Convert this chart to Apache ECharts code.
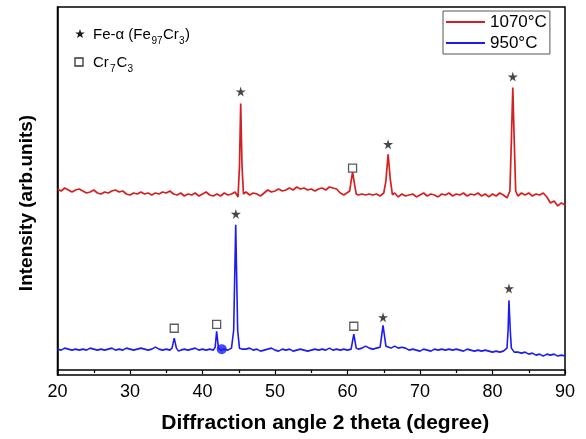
<!DOCTYPE html>
<html>
<head>
<meta charset="utf-8">
<script src="https://cdn.jsdelivr.net/npm/echarts@6/dist/echarts.min.js"></script>
<style>
html,body{margin:0;padding:0;background:#fff;}
#c{width:586px;height:439px;}
</style>
</head>
<body>
<div id="c"></div>
<script>
// 2-theta (degree), intensity (arb. units, offset)
var red1070 = [
[20,182],[20.5,180],[21,183],[21.5,181],[22,179],[22.5,181],[23,182],[23.5,180],[24,178],[24.5,179],
[25,181],[25.5,178],[26,177],[26.5,179],[27,178],[27.5,180],[28,181],[28.5,179],[29,180],[29.5,177],
[30,176],[30.5,178],[31,177],[31.5,179],[32,177],[32.5,178],[33,176],[33.5,178],[34,177],[34.5,179],
[35,178],[35.5,180],[36,177],[36.5,176],[37,178],[37.5,175],[38,177],[38.5,176],[39,178],[39.5,175],
[40,177],[40.5,179],[41,176],[41.5,175],[42,177],[42.5,175],[43,178],[43.5,176],[44,177],[44.5,179],
[44.9,174],[45.1,205],[45.27,268],[45.45,205],[45.65,177],[46,179],[46.5,176],[47,178],[47.5,177],[48,175],
[48.5,178],[49,181],[49.5,179],[50,180],[50.5,182],[51,180],[51.5,181],[52,183],[52.5,181],[53,184],
[53.5,182],[54,183],[54.5,181],[55,182],[55.5,180],[56,182],[56.5,183],[57,181],[57.5,184],[58,183],
[58.5,182],[59,178],[59.5,176],[60.3,180],[60.5,190],[60.7,199],[60.9,190],[61.2,177],[61.5,176],[62,177],
[62.5,176],[63,177],[63.5,176],[64,177],[64.5,175],[65,178],[65.3,190],[65.6,217],[65.9,192],[66.2,176],
[66.5,178],[67,174],[67.5,177],[68,175],[68.5,176],[69,177],[69.5,174],[70,176],[70.5,178],[71,175],
[71.5,177],[72,176],[72.5,174],[73,177],[73.5,176],[74,178],[74.5,175],[75,177],[75.5,176],[76,178],
[76.5,175],[77,177],[77.5,176],[78,178],[78.5,175],[79,177],[79.5,174],[80,177],[80.5,175],[81,178],
[81.5,176],[82,173],[82.4,180],[82.6,230],[82.8,284],[83.0,230],[83.2,180],[83.5,175],[84,178],[84.5,176],
[85,178],[85.5,175],[86,177],[86.5,176],[87,178],[87.5,174],[88,168],[88.5,170],[89,165],[89.5,168],[90,166]
];
var blue950 = [
[20,21],[20.5,20],[21,22],[21.5,21],[22,20],[22.5,21],[23,20],[23.5,21],[24,20],[24.5,22],
[25,21],[25.5,20],[26,21],[26.5,20],[27,21],[27.5,22],[28,20],[28.5,21],[29,20],[29.5,22],
[30,21],[30.5,20],[31,21],[31.5,22],[32,21],[32.5,20],[33,21],[33.5,23],[34,21],[34.5,20],
[35,21],[35.5,20],[35.8,22],[36.1,32],[36.4,22],[36.7,19],[37,20],[37.5,21],[38,20],[38.5,21],
[39,22],[39.5,20],[40,21],[40.5,20],[41,21],[41.5,20],[41.75,23],[41.95,39],[42.2,22],[42.5,20],
[43,21],[43.5,20],[44,22],[44.3,40],[44.58,146],[44.85,40],[45.1,22],[45.5,21],[46,21],[46.5,22],
[47,20],[47.5,21],[48,19],[48.5,20],[49,21],[49.5,22],[50,20],[50.5,19],[51,21],[51.5,20],
[52,21],[52.5,19],[53,20],[53.5,21],[54,20],[54.5,19],[55,20],[55.5,21],[56,20],[56.5,21],
[57,20],[57.5,22],[58,20],[58.5,21],[59,20],[59.5,21],[60,20],[60.5,21],[60.87,36],[61.2,22],
[61.5,21],[62,22],[62.5,24],[63,22],[63.5,21],[64,22],[64.5,23],[64.9,45],[65.3,24],[65.7,23],
[66,22],[66.5,24],[67,22],[67.5,23],[68,22],[68.5,20],[69,21],[69.5,20],[70,19],[70.5,21],
[71,20],[71.5,19],[72,21],[72.5,20],[73,21],[73.5,20],[74,21],[74.5,20],[75,21],[75.5,20],
[76,19],[76.5,21],[77,20],[77.5,19],[78,20],[78.5,19],[79,20],[79.5,19],[80,18],[80.5,19],
[81,18],[81.5,19],[82,22],[82.15,40],[82.27,70],[82.45,40],[82.6,22],[83,18],[83.5,18],[84,17],
[84.5,18],[85,16],[85.5,17],[86,15],[86.5,16],[87,14],[87.5,16],[88,15],[88.5,16],[89,14],[89.5,15],[90,14]
];
var blueDot = [[42.65,21]];
// phase markers
var feAlphaMarks = [[45.27,280],[65.6,227],[82.8,295],[44.6,157],[64.9,53],[82.27,82]];
var cr7c3Marks = [[60.7,203],[36.1,42],[41.95,46],[60.87,44]];
var xTicks = [20,30,40,50,60,70,80,90];

var FONT = 'Liberation Sans, Arial, sans-serif';
var STAR = 'path://M50,0 L61,35 L98,35 L68,57 L79,91 L50,70 L21,91 L32,57 L2,35 L39,35 Z';
var STAR_PTS = [[0,-5],[1.2,-1.6],[4.75,-1.55],[1.9,0.6],[2.95,4.05],[0,2],[-2.95,4.05],[-1.9,0.6],[-4.75,-1.55],[-1.2,-1.6]];

var chart = echarts.init(document.getElementById('c'), null, {renderer:'canvas'});
chart.setOption({
  backgroundColor:'#fff',
  animation:false,
  grid:{left:57.5,right:21,top:7,bottom:62,show:true,borderColor:'#000',borderWidth:1.5},
  legend:{
    data:['1070°C','950°C'],
    orient:'vertical',left:443,top:11,
    icon:'rect',itemWidth:39,itemHeight:2,itemGap:1,
    padding:[1,3,1,3],
    borderColor:'#555',borderWidth:1,backgroundColor:'#fff',
    textStyle:{fontFamily:FONT,fontSize:17,color:'#000',lineHeight:20}
  },
  xAxis:{
    type:'value',min:xTicks[0],max:xTicks[xTicks.length-1],interval:10,
    name:'Diffraction angle 2 theta (degree)',nameLocation:'middle',nameGap:38,
    nameTextStyle:{fontFamily:FONT,fontSize:21,fontWeight:'bold',color:'#000',padding:[0,0,0,28]},
    axisLine:{lineStyle:{color:'#000',width:1.5}},
    axisTick:{inside:false,length:4,lineStyle:{color:'#000',width:1.2}},
    minorTick:{show:true,splitNumber:2,length:3,lineStyle:{color:'#000',width:1.2}},
    axisLabel:{fontFamily:FONT,fontSize:18,color:'#000',margin:8},
    splitLine:{show:false}
  },
  yAxis:{
    type:'value',min:-5,max:365,
    name:'Intensity (arb.units)',nameLocation:'middle',nameGap:21,nameRotate:90,
    nameTextStyle:{fontFamily:FONT,fontSize:19,fontWeight:'bold',color:'#000',padding:[0,24,0,0]},
    axisLine:{show:true,lineStyle:{color:'#000',width:1.5}},
    axisTick:{show:false},axisLabel:{show:false},splitLine:{show:false}
  },
  series:[
    {name:'1070°C',type:'line',data:red1070,symbol:'none',color:'#d42020',
     lineStyle:{color:'#d42020',width:1.7}},
    {name:'950°C',type:'line',data:blue950,symbol:'none',color:'#1c1cf0',
     lineStyle:{color:'#1c1cf0',width:1.6}},
    {name:'dot',type:'scatter',data:blueDot,symbol:'circle',symbolSize:10,
     itemStyle:{color:'#1c1cf0'}},
    {name:'Fe-α',type:'scatter',data:feAlphaMarks,symbol:STAR,symbolSize:10,
     itemStyle:{color:'#1a1a1a'}},
    {name:'Cr7C3',type:'scatter',data:cr7c3Marks,symbol:'rect',symbolSize:8,
     itemStyle:{color:'#fff',borderColor:'#333',borderWidth:1.3}}
  ],
  graphic:[
    {type:'polygon',x:80,y:34,shape:{points:STAR_PTS},style:{fill:'#1a1a1a'}},
    {type:'text',x:93,y:27.5,style:{text:'Fe-α (Fe',font:'15px '+FONT,fill:'#000'}},
    {type:'text',x:151.5,y:36.5,style:{text:'97',font:'10px '+FONT,fill:'#000'}},
    {type:'text',x:163,y:27.5,style:{text:'Cr',font:'15px '+FONT,fill:'#000'}},
    {type:'text',x:179,y:36.5,style:{text:'3',font:'10px '+FONT,fill:'#000'}},
    {type:'text',x:185,y:27.5,style:{text:')',font:'15px '+FONT,fill:'#000'}},
    {type:'rect',shape:{x:75,y:58,width:8,height:8},style:{fill:'#fff',stroke:'#333',lineWidth:1.3}},
    {type:'text',x:93,y:55.5,style:{text:'Cr',font:'15px '+FONT,fill:'#000'}},
    {type:'text',x:110,y:64.5,style:{text:'7',font:'10px '+FONT,fill:'#000'}},
    {type:'text',x:116.5,y:55.5,style:{text:'C',font:'15px '+FONT,fill:'#000'}},
    {type:'text',x:127.5,y:64.5,style:{text:'3',font:'10px '+FONT,fill:'#000'}}
  ]
});
</script>
</body>
</html>
